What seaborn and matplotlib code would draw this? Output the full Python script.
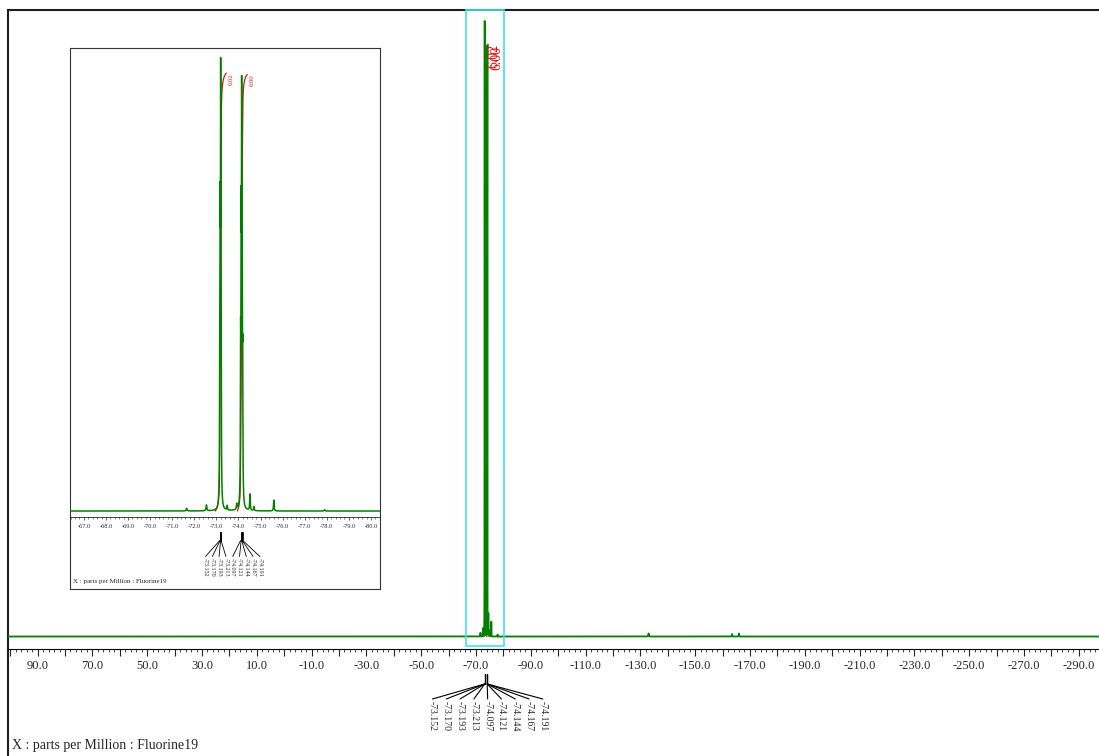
import numpy as np
import pandas as pd
import matplotlib
matplotlib.use("Agg")
import matplotlib.pyplot as plt
import matplotlib.ticker as mticker
from matplotlib.lines import Line2D
from matplotlib.patches import Rectangle
from matplotlib import transforms as mtransforms
import seaborn as sns

# ---- 19F spectrum: resolved multiplet lines (ppm, height, half width) ----
line_ppm = [-73.152, -73.170, -73.193, -73.213, -74.097, -74.121, -74.144, -74.167, -74.191]
line_height = [0.28, 0.51, 0.83, 0.37, 0.30, 0.52, 0.77, 0.53, 0.26]
line_hwhm = 0.010

# ---- weak signals ----
minor_ppm = [-71.65, -72.55, -73.49, -73.92, -74.52, -74.70, -75.60, -77.90, -133.0, -163.5, -166.0]
minor_height = [0.006, 0.013, 0.010, 0.012, 0.036, 0.009, 0.024, 0.003, 0.005, 0.004, 0.005]
minor_hwhm = [0.02, 0.02, 0.015, 0.015, 0.015, 0.015, 0.015, 0.02, 0.05, 0.05, 0.05]

# ---- integrals ----
integral_start = [-72.95, -73.95]
integral_end = [-73.45, -74.40]
integral_value = [6.02, 6.00]
integral_scale = 0.1606

# ---- axis ranges (ppm) ----
main_xlim = (100.8, -297.4)
inset_xlim = (-66.37, -80.41)
main_ylim = (-0.0203, 1.019)
inset_ylim = (-0.0132, 1.0221)

peak_labels = [f"{p:.3f}" for p in line_ppm]
axis_title = "X : parts per Million : Fluorine19"

GREEN = "#008000"
RED = "#dd1111"
CYAN = "#3fe3ea"
W, H = 1099, 756

sns.set_style("white")
plt.rcParams["font.family"] = ["Liberation Serif", "DejaVu Serif"]
plt.rcParams["axes.unicode_minus"] = False


def lorentz_sum(x):
    y = np.zeros_like(x)
    for p, h in zip(line_ppm, line_height):
        y += h * line_hwhm ** 2 / ((x - p) ** 2 + line_hwhm ** 2)
    for p, h, w in zip(minor_ppm, minor_height, minor_hwhm):
        y += h * w ** 2 / ((x - p) ** 2 + w ** 2)
    return y


fine_x = np.linspace(-66.0, -81.0, 15001)
coarse_x = np.arange(main_xlim[0], main_xlim[1], -0.004)
main_x = np.union1d(fine_x, coarse_x)[::-1]
main_df = pd.DataFrame({"ppm": main_x, "intensity": lorentz_sum(main_x)})
fine_df = pd.DataFrame({"ppm": fine_x, "intensity": lorentz_sum(fine_x)})
fine_df = fine_df[(fine_df.ppm <= inset_xlim[0]) & (fine_df.ppm >= inset_xlim[1])]

integrals = []
for s, e, v in zip(integral_start, integral_end, integral_value):
    seg = fine_df[(fine_df.ppm <= s) & (fine_df.ppm >= e)]
    c = np.cumsum(seg.intensity.values)
    integrals.append(pd.DataFrame({"ppm": seg.ppm.values,
                                   "integral": c / c[-1] * v * integral_scale}))


def box(x0, y0, x1, y1):
    return [x0 / W, 1 - y1 / H, (x1 - x0) / W, (y1 - y0) / H]


fig = plt.figure(figsize=(W / 100, H / 100), dpi=100)

# outer frame
frame = fig.add_axes(box(8, 10, 1120, 780), zorder=0)
frame.set_xticks([]); frame.set_yticks([])
for side in ["right", "bottom"]:
    frame.spines[side].set_visible(False)
for side in ["top", "left"]:
    frame.spines[side].set_linewidth(1.5)
    frame.spines[side].set_color("#1e1e1e")

# main spectrum
ax = fig.add_axes(box(8, 10, 1099, 649), zorder=1)
ax.patch.set_alpha(0)
for side in ["top", "left", "right"]:
    ax.spines[side].set_visible(False)
ax.spines["bottom"].set_linewidth(0.8)
ax.spines["bottom"].set_color("black")
for df in integrals:
    sns.lineplot(data=df, x="ppm", y="integral", ax=ax, color=RED, lw=1.0,
                 estimator=None, sort=False, zorder=2)
sns.lineplot(data=main_df, x="ppm", y="intensity", ax=ax, color=GREEN, lw=1.3,
             estimator=None, sort=False, zorder=3)
ax.set_xlim(*main_xlim)
ax.set_ylim(*main_ylim)
ax.set_xlabel(""); ax.set_ylabel("")
ax.set_yticks([])
ax.xaxis.set_major_locator(mticker.MultipleLocator(10))
ax.xaxis.set_minor_locator(mticker.MultipleLocator(2))
ax.xaxis.set_major_formatter(mticker.FuncFormatter(
    lambda v, _: f"{v:.1f}" if int(round(v)) % 20 == 10 else ""))
ax.tick_params(axis="x", which="major", direction="out", length=5, width=0.8,
               pad=3, labelsize=9, bottom=True)
ax.tick_params(axis="x", which="minor", direction="out", length=2.5, width=0.6,
               bottom=True)

# highlighted window
trans = mtransforms.blended_transform_factory(ax.transData, ax.transAxes)
ax.add_patch(Rectangle((inset_xlim[0], 0.004), inset_xlim[1] - inset_xlim[0], 0.996,
                       transform=trans, fill=False, ec=CYAN, lw=1.2, zorder=4,
                       clip_on=False))

for df, v in zip(integrals, integral_value):
    ax.annotate(f"{v:.2f}", xy=(df.ppm.values[-1], df.integral.values[-1]),
                xytext=(2, -2), textcoords="offset pixels", rotation=90,
                ha="left", va="top", fontsize=10, color=RED, zorder=5)

# expanded view
inset_frame = fig.add_axes(box(70, 48, 380, 589), zorder=5)
inset_frame.set_facecolor("white")
inset_frame.set_xticks([]); inset_frame.set_yticks([])
for side in inset_frame.spines.values():
    side.set_linewidth(0.8)
    side.set_color("#333333")

axi = fig.add_axes(box(70, 48, 380, 517), zorder=6)
axi.patch.set_alpha(0)
for side in ["top", "left", "right"]:
    axi.spines[side].set_visible(False)
axi.spines["bottom"].set_linewidth(0.6)
for df in integrals:
    sns.lineplot(data=df, x="ppm", y="integral", ax=axi, color=RED, lw=0.9,
                 estimator=None, sort=False, zorder=2)
sns.lineplot(data=fine_df, x="ppm", y="intensity", ax=axi, color=GREEN, lw=1.1,
             estimator=None, sort=False, zorder=3)
axi.set_xlim(*inset_xlim)
axi.set_ylim(*inset_ylim)
axi.set_xlabel(""); axi.set_ylabel("")
axi.set_yticks([])
axi.xaxis.set_major_locator(mticker.MultipleLocator(1.0))
axi.xaxis.set_minor_locator(mticker.MultipleLocator(0.2))
axi.xaxis.set_major_formatter(mticker.FormatStrFormatter("%.1f"))
axi.tick_params(axis="x", which="major", direction="out", length=2.5, width=0.5,
                pad=2.5, labelsize=4.5, bottom=True)
axi.tick_params(axis="x", which="minor", direction="out", length=1.3, width=0.4,
                bottom=True)
for df, v in zip(integrals, integral_value):
    axi.annotate(f"{v:.2f}", xy=(df.ppm.values[-1], df.integral.values[-1]),
                 xytext=(2, 0), textcoords="offset pixels", rotation=90,
                 ha="left", va="top", fontsize=4.8, color=RED, zorder=5)


def peak_annotations(axis, y_bar0, y_bar1, y_fan, y_text, spacing, shift,
                     fontsize, lw, z):
    xs = [axis.transData.transform((p, 0))[0] for p in line_ppm]
    center = np.mean(xs) + shift
    n = len(xs)
    for i, (xp, lab) in enumerate(zip(xs, peak_labels)):
        xl = center + (i - (n - 1) / 2) * spacing
        fig.add_artist(Line2D([xp / W, xp / W], [1 - y_bar0 / H, 1 - y_bar1 / H],
                              transform=fig.transFigure, color="black", lw=lw, zorder=z))
        fig.add_artist(Line2D([xp / W, xl / W], [1 - y_bar1 / H, 1 - y_fan / H],
                              transform=fig.transFigure, color="black", lw=lw, zorder=z))
        fig.text(xl / W, 1 - y_text / H, lab, rotation=-90, ha="center", va="top",
                 fontsize=fontsize, zorder=z)


peak_annotations(ax, 674, 684, 699, 701, 13.8, 1.5, 7, 0.8, 3)
peak_annotations(axi, 531.5, 540.5, 556.5, 558.5, 6.8, 0.5, 4.3, 0.6, 10)

fig.text(12 / W, 1 - 746 / H, axis_title, ha="left", va="center", fontsize=10)
fig.text(73 / W, 1 - 582 / H, axis_title, ha="left", va="center", fontsize=5,
         zorder=10)

fig.savefig("out.png", dpi=100)
